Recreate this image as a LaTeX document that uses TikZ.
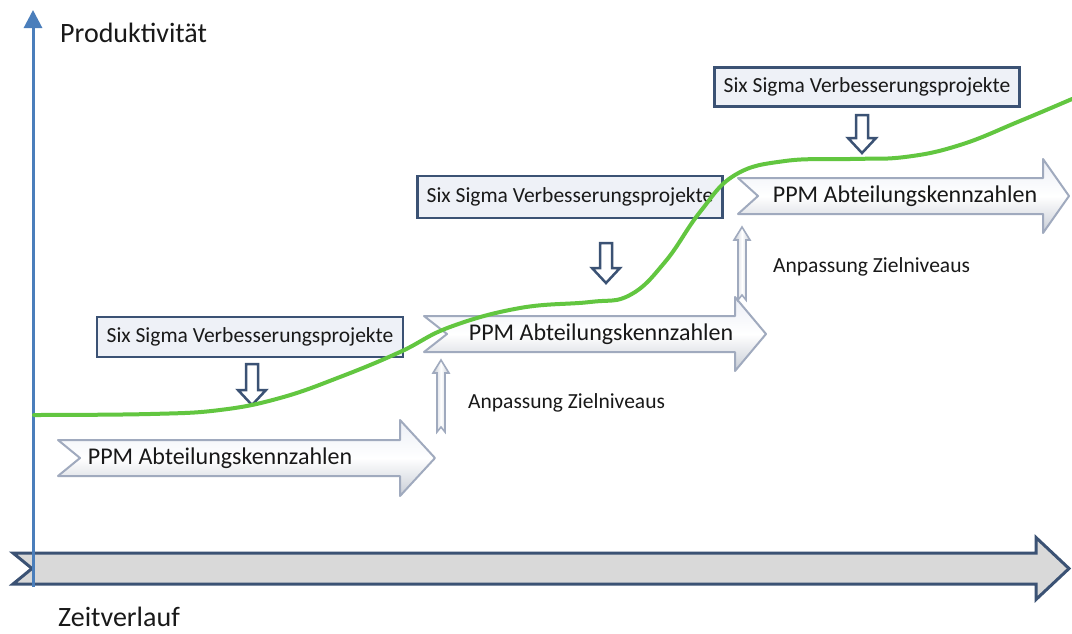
\documentclass[tikz,border=0pt]{standalone}
\usepackage{fontspec}
\setmainfont{Carlito}
\usetikzlibrary{arrows.meta}

\definecolor{axisblue}{RGB}{74,126,187}
\definecolor{darkframe}{RGB}{59,82,116}
\definecolor{curvegreen}{RGB}{98,198,64}
\definecolor{ppmedge}{RGB}{160,170,190}
\definecolor{ppmtop}{RGB}{236,239,246}
\definecolor{ppmbot}{RGB}{200,205,214}
\definecolor{boxfill}{RGB}{238,241,247}
\definecolor{axisfill}{RGB}{217,217,217}
\definecolor{txt}{RGB}{25,25,25}

% chevron arrow: style, left x, body top, body bottom, notch depth, head base x, head half height, tip x
\newcommand\chevronarrow[8]{%
  \draw[#1] (#2,#3) -- (#6,#3) -- (#6,{(#3+#4)/2-#7}) -- (#8,{(#3+#4)/2})
    -- (#6,{(#3+#4)/2+#7}) -- (#6,#4) -- (#2,#4) -- ({#2+#5},{(#3+#4)/2}) -- cycle;}
% hollow block arrow pointing down: centre x, top y, tip y
\newcommand\downblock[3]{%
  \draw[downarrow] ({#1-6},#2) -- ({#1+6},#2) -- ({#1+6},{#3-15}) -- ({#1+14},{#3-15})
    -- (#1,#3) -- ({#1-14},{#3-15}) -- ({#1-6},{#3-15}) -- cycle;}
% slim notched arrow pointing up: centre x, bottom y, tip y
\newcommand\upblock[3]{%
  \draw[uparrow] ({#1-4},#2) -- (#1,{#2-5}) -- ({#1+4},#2) -- ({#1+4},{#3+13}) -- ({#1+8},{#3+13})
    -- (#1,#3) -- ({#1-8},{#3+13}) -- ({#1-4},{#3+13}) -- cycle;}

\tikzset{
  ppmarrow/.style={draw=ppmedge, line width=2, line join=round,
    top color=ppmtop, bottom color=ppmbot, middle color=white},
  timearrow/.style={draw=darkframe, line width=3, fill=axisfill, line join=miter},
  downarrow/.style={draw=darkframe, line width=2.5, fill=white, line join=miter},
  uparrow/.style={draw=ppmedge, line width=1.6, left color=ppmbot, right color=ppmbot, middle color=white},
  sigmabox/.style={draw=darkframe, line width=2.5, fill=boxfill, inner sep=0pt,
    text=txt, font=\fontsize{21.5}{24}\selectfont},
  ppmtext/.style={text=txt, font=\fontsize{24}{28}\selectfont, inner sep=0pt},
  notetext/.style={text=txt, font=\fontsize{21.5}{24}\selectfont, inner sep=0pt},
  axistext/.style={text=txt, font=\fontsize{28}{32}\selectfont, inner sep=0pt},
}

\begin{document}
\begin{tikzpicture}[x=1pt,y=-1pt]
\useasboundingbox (0,0) rectangle (1072,633);
\fill[white] (0,0) rectangle (1072,633);

% time axis
\chevronarrow{timearrow}{13}{553}{584}{19}{1036}{31}{1069}
\node[axistext, anchor=base west] (zeit) at (58,626) {Zeitverlauf};

% productivity axis
\coordinate (ybot) at (33,587);
\coordinate (ytop) at (33,10);
\draw[axisblue, line width=3, -{Triangle[width=18pt,length=18pt]}] (ybot) -- (ytop);
\node[axistext, anchor=base west] (prod) at (60,42) {Produktivität};

% department KPI arrows
\chevronarrow{ppmarrow}{58}{440}{476}{22}{400}{38}{435}
\node[ppmtext] (ppm1) at (220,458) {PPM Abteilungskennzahlen};
\chevronarrow{ppmarrow}{424}{316}{352}{23}{735}{37}{766}
\node[ppmtext] (ppm2) at (601,334) {PPM Abteilungskennzahlen};
\chevronarrow{ppmarrow}{738}{178}{214}{20}{1043}{37}{1069}
\node[ppmtext] (ppm3) at (905,196) {PPM Abteilungskennzahlen};

% target level adjustments
\upblock{441}{432}{360}
\node[notetext, anchor=west] (anp1) at (468,403) {Anpassung Zielniveaus};
\upblock{742}{300}{227}
\node[notetext, anchor=west] (anp2) at (773,267) {Anpassung Zielniveaus};

% improvement projects
\node[sigmabox, minimum width=306pt, minimum height=40pt] (ss1) at (250,337) {Six Sigma Verbesserungsprojekte};
\downblock{252}{364}{405}
\node[sigmabox, minimum width=305pt, minimum height=42pt] (ss2) at (570,197) {Six Sigma Verbesserungsprojekte};
\downblock{606}{243}{283}
\node[sigmabox, minimum width=305pt, minimum height=39pt] (ss3) at (867,87) {Six Sigma Verbesserungsprojekte};
\downblock{862}{115}{153}

% productivity curve
\draw[curvegreen, line width=4, line cap=round] plot[smooth, tension=0.7] coordinates {
  (34,415) (150,414) (220,410) (280,398) (340,377) (400,352) (450,327)
  (520,308) (590,302) (630,295) (665,262) (700,212) (735,175)
  (785,161) (850,159) (905,157) (960,145) (1020,121) (1072,99)};
\end{tikzpicture}
\end{document}
